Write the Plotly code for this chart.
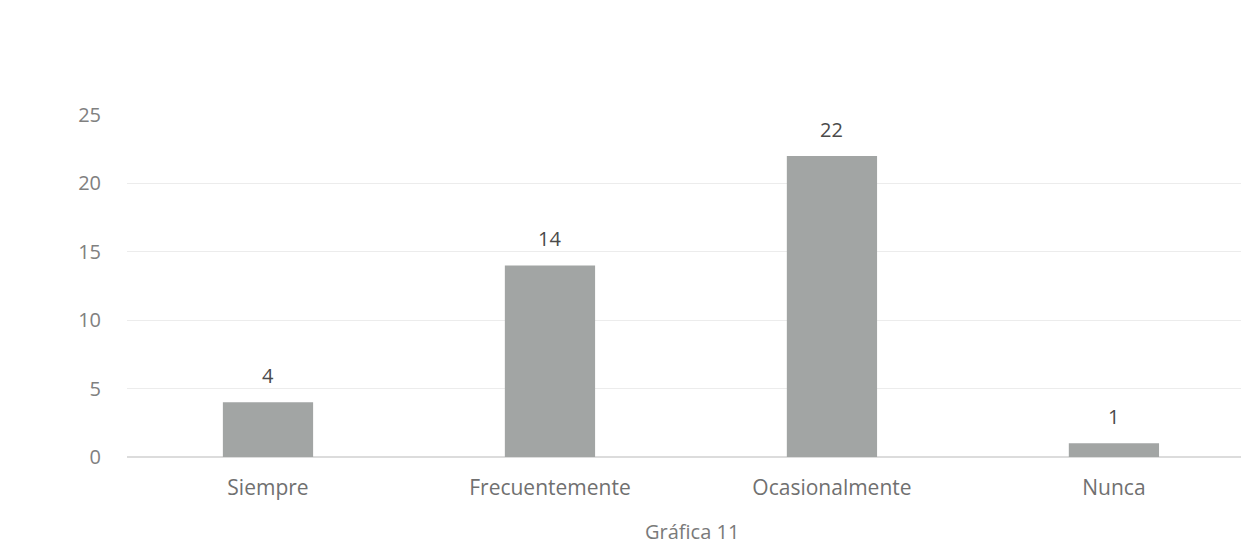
import plotly.graph_objects as go

categories = ["Siempre", "Frecuentemente", "Ocasionalmente", "Nunca"]
values = [4, 14, 22, 1]
y_ticks = [0, 5, 10, 15, 20, 25]
caption = "Gráfica 11"

FONT = "Open Sans"

fig = go.Figure(go.Bar(
    x=categories, y=values,
    marker=dict(color="#a2a5a4", line=dict(width=0)),
    cliponaxis=False,
))

annotations = [
    dict(x=c, y=v, xref="x", yref="y", text=str(v), showarrow=False,
         yanchor="middle", yshift=27,
         font=dict(family=FONT, size=20, color="#4a4a4a"))
    for c, v in zip(categories, values)
]

plot_h = 342
annotations.append(dict(text=caption, xref="paper", yref="paper",
                        x=(692 - 127) / (1249 - 127), y=-74 / plot_h,
                        xanchor="center", yanchor="middle", showarrow=False,
                        font=dict(family=FONT, size=20, color="#7a7a7a")))

fig.update_layout(
    width=1241, height=539,
    margin=dict(l=119, r=0, t=107, b=539 - 107 - plot_h),
    paper_bgcolor="white", plot_bgcolor="white",
    bargap=0.68,
    showlegend=False,
    font=dict(family=FONT, color="#808080"),
    xaxis=dict(range=[-0.5, 3.479], showgrid=False, showline=False,
               ticks="", tickfont=dict(size=21, color="#707070"),
               ticklabelstandoff=16),
    yaxis=dict(range=[0, 25], tickvals=y_ticks, showgrid=True,
               gridcolor="#ececec", gridwidth=1, zeroline=True,
               zerolinecolor="#dcdcdc", zerolinewidth=1.5,
               tickfont=dict(size=20, color="#808080"), ticks="",
               ticklabelstandoff=25),
    annotations=annotations,
)

fig.write_html("out.html")
